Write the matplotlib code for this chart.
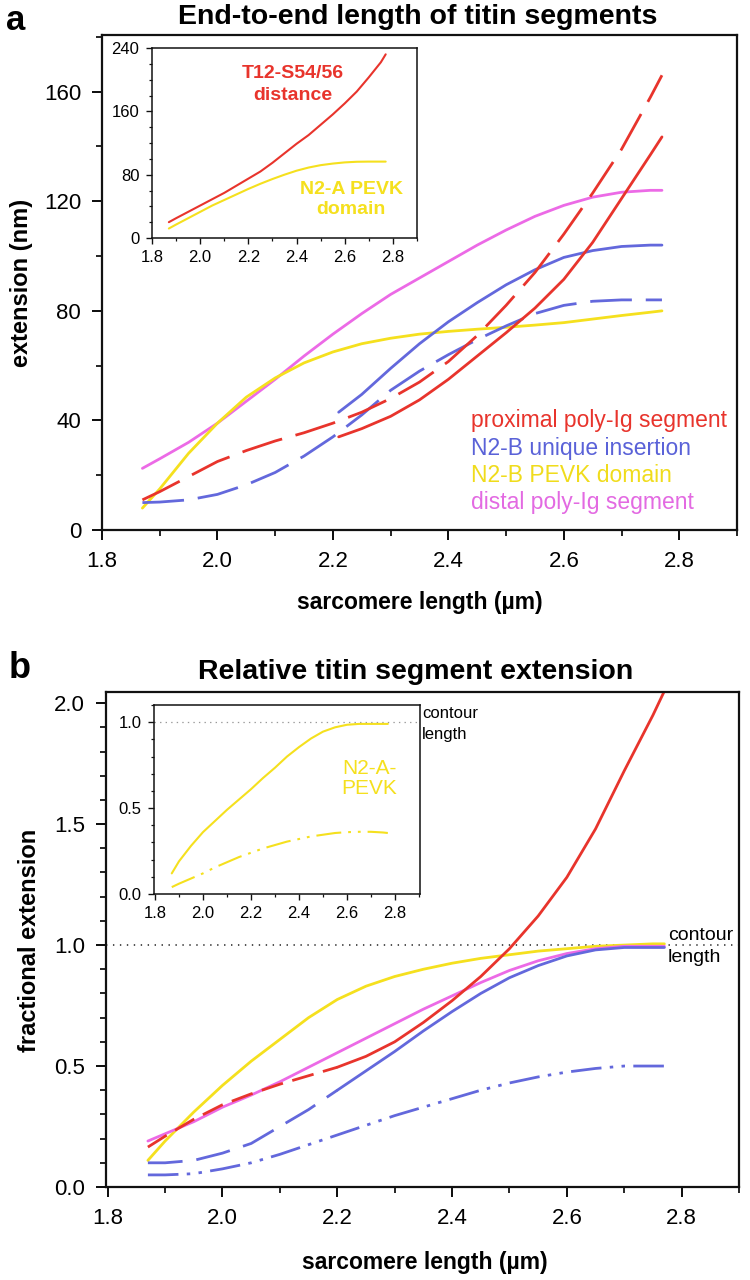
import matplotlib
matplotlib.use("Agg")
import matplotlib.pyplot as plt
from matplotlib.ticker import MultipleLocator

# ---------------- data ----------------
sl = [1.87, 1.9, 1.95, 2.0, 2.05, 2.1, 2.15, 2.2, 2.25, 2.3, 2.35, 2.4, 2.45,
      2.5, 2.55, 2.6, 2.65, 2.7, 2.75, 2.77]

# panel a: end-to-end length (nm)
a_distal = [22.5, 26, 32, 39, 47, 55, 63.5, 71.5, 79, 86, 92, 98, 104, 109.5,
            114.5, 118.5, 121.5, 123.3, 124, 124]
a_pevk = [8, 15, 28, 39, 48.5, 55.5, 61, 65, 68, 70, 71.5, 72.5, 73.3, 74, 74.8,
          75.7, 77, 78.3, 79.5, 80]
a_n2b_dashed = [10, 10.2, 11, 13, 16.5, 21, 27, 34, 42, 51, 58, 64, 69.5, 74.5,
                79, 82, 83.5, 84, 84, 84]
sl_late = [2.21, 2.25, 2.3, 2.35, 2.4, 2.45, 2.5, 2.55, 2.6, 2.65, 2.7, 2.75, 2.77]
a_n2b_solid = [43, 49.5, 59, 68, 76, 83, 89.5, 95, 99.5, 102, 103.5, 104, 104]
a_prox_dashed = [11, 14, 19.5, 25, 29, 32.5, 35.5, 39, 43, 48, 54, 61.5, 71, 82,
                 94, 108, 123, 139, 158, 166]
a_prox_solid = [34, 37, 41.5, 47.5, 55, 63.5, 72, 81, 91.5, 105, 121, 137, 143.5]

# panel a inset
ai_t12 = [20, 25, 33, 41, 49, 57, 66, 75, 84, 95, 107, 119, 130, 143, 156, 170,
          185, 203, 222, 232]
ai_n2a = [12, 17, 25, 33, 41, 48, 55, 62, 68.5, 74.5, 80, 85, 89, 92, 94, 95.5,
          96.3, 96.5, 96.5, 96.5]

# panel b: fractional extension
b_pevk = [0.11, 0.19, 0.31, 0.42, 0.52, 0.61, 0.70, 0.775, 0.83, 0.87, 0.90,
          0.925, 0.945, 0.96, 0.975, 0.985, 0.995, 1.0, 1.005, 1.005]
b_distal = [0.19, 0.22, 0.27, 0.33, 0.38, 0.435, 0.495, 0.555, 0.615, 0.675,
            0.735, 0.79, 0.845, 0.895, 0.935, 0.965, 0.985, 0.995, 0.995, 0.995]
sl_early = [1.87, 1.9, 1.95, 2.0, 2.05, 2.1, 2.15, 2.2]
sl_mid = [2.2, 2.25, 2.3, 2.35, 2.4, 2.45, 2.5, 2.55, 2.6, 2.65, 2.7, 2.75, 2.77]
b_prox_early = [0.165, 0.21, 0.28, 0.34, 0.385, 0.425, 0.46, 0.495]
b_prox_late = [0.495, 0.54, 0.60, 0.68, 0.77, 0.87, 0.985, 1.12, 1.28, 1.48,
               1.72, 1.95, 2.05]
b_n2b_early = [0.10, 0.10, 0.11, 0.14, 0.18, 0.25, 0.32, 0.40]
b_n2b_late = [0.40, 0.48, 0.56, 0.645, 0.725, 0.80, 0.865, 0.915, 0.955, 0.98,
              0.99, 0.99, 0.99]
b_n2b_dashdot = [0.05, 0.05, 0.055, 0.075, 0.10, 0.135, 0.175, 0.215, 0.255,
                 0.295, 0.33, 0.365, 0.40, 0.43, 0.455, 0.475, 0.49, 0.50, 0.50, 0.50]

# panel b inset
bi_n2a = [0.12, 0.19, 0.28, 0.36, 0.425, 0.49, 0.55, 0.61, 0.675, 0.735, 0.80,
          0.855, 0.905, 0.945, 0.97, 0.985, 0.99, 0.99, 0.99, 0.99]
bi_n2a_dd = [0.04, 0.06, 0.09, 0.12, 0.155, 0.185, 0.215, 0.24, 0.265, 0.285,
             0.305, 0.32, 0.335, 0.345, 0.355, 0.36, 0.362, 0.362, 0.358, 0.355]

legend_labels = ["proximal poly-Ig segment", "N2-B unique insertion",
                 "N2-B PEVK domain", "distal poly-Ig segment"]

# ---------------- style ----------------
RED = "#e8342c"
BLUE = "#6368dc"
YEL = "#f5e01e"
PINK = "#ec6ae6"
BLUE_T = "#5a62d8"
PINK_T = "#e36ae2"

SANS = ["Liberation Sans", "DejaVu Sans"]
NARROW = ["Liberation Sans Narrow", "Liberation Sans", "DejaVu Sans"]
plt.rcParams["font.family"] = NARROW
plt.rcParams["lines.scale_dashes"] = False
plt.rcParams["lines.solid_capstyle"] = "round"

W, H = 750, 1280
fig = plt.figure(figsize=(7.5, 12.8), dpi=100)


def rect(l, t, r, b):
    return [l / W, 1 - b / H, (r - l) / W, (b - t) / H]


def ftext(x, y, s, **kw):
    kw.setdefault("ha", "center")
    kw.setdefault("va", "center")
    fig.text(x / W, 1 - y / H, s, **kw)


def style_axes(ax, lw, labelsize, maj, mnr, pad):
    for sp in ax.spines.values():
        sp.set_linewidth(lw)
        sp.set_color("#111111")
    ax.tick_params(which="major", direction="out", length=maj, width=lw * 0.9,
                   labelsize=labelsize, pad=pad, top=False, right=False,
                   color="#111111")
    ax.tick_params(which="minor", direction="out", length=mnr, width=lw * 0.8,
                   top=False, right=False, color="#111111")


DASH_A = (0, (30, 10))
DASH_B_RED = (0, (16, 7))
DASH_B_BLUE = (0, (25, 10))
DDOT = (0, (22, 6, 2.5, 6, 2.5, 6))
LW = 2.0

# ================= panel a =================
axa = fig.add_axes(rect(102, 35, 737, 530))
axa.plot(sl, a_distal, color=PINK, lw=LW)
axa.plot(sl, a_pevk, color=YEL, lw=LW)
axa.plot(sl, a_n2b_dashed, color=BLUE, lw=LW, linestyle=DASH_A)
axa.plot(sl_late, a_n2b_solid, color=BLUE, lw=LW)
axa.plot(sl, a_prox_dashed, color=RED, lw=LW, linestyle=DASH_A)
axa.plot(sl_late, a_prox_solid, color=RED, lw=LW)
axa.set_xlim(1.8, 2.9)
axa.set_ylim(0, 180.7)
axa.xaxis.set_major_locator(MultipleLocator(0.2))
axa.xaxis.set_minor_locator(MultipleLocator(0.1))
axa.yaxis.set_major_locator(MultipleLocator(40))
axa.yaxis.set_minor_locator(MultipleLocator(20))
axa.xaxis.set_major_formatter(plt.FuncFormatter(lambda v, p: f"{v:.1f}"))
style_axes(axa, 1.6, 16, 7, 4, 8)

leg_colors = [RED, BLUE_T, "#f0dc1c", PINK_T]
leg_y = [420, 449, 476, 503]
for lab, c, y in zip(legend_labels, leg_colors, leg_y):
    ftext(471, y, lab, ha="left", color=c, fontsize=16.5, family=SANS)

# inset a
ia = fig.add_axes(rect(152, 48, 417, 238))
ia.plot(sl, ai_t12, color=RED, lw=1.5)
ia.plot(sl, ai_n2a, color=YEL, lw=1.5)
ia.set_xlim(1.8, 2.9)
ia.set_ylim(0, 240)
ia.xaxis.set_major_locator(MultipleLocator(0.2))
ia.xaxis.set_minor_locator(MultipleLocator(0.1))
ia.yaxis.set_major_locator(MultipleLocator(80))
ia.yaxis.set_minor_locator(MultipleLocator(20))
ia.xaxis.set_major_formatter(plt.FuncFormatter(lambda v, p: f"{v:.1f}"))
style_axes(ia, 1.1, 12, 4, 2.5, 5)
ftext(293, 74, "T12-S54/56", color=RED, fontsize=14, fontweight="bold", family=SANS)
ftext(293, 96, "distance", color=RED, fontsize=14, fontweight="bold", family=SANS)
ftext(351, 189, "N2-A PEVK", color=YEL, fontsize=14, fontweight="bold", family=SANS)
ftext(351, 210, "domain", color=YEL, fontsize=14, fontweight="bold", family=SANS)

ftext(16, 4, "a", fontsize=25, fontweight="bold", family=SANS, va="top")
ftext(418, 17, "End-to-end length of titin segments", fontsize=20.5,
      fontweight="bold", family=SANS)
ftext(22, 283, "extension (nm)", rotation=90, fontsize=17, fontweight="bold",
      family=SANS)
ftext(420, 603, "sarcomere length (µm)", fontsize=16.5, fontweight="bold",
      family=SANS)

# ================= panel b =================
axb = fig.add_axes(rect(106, 692, 739, 1187))
axb.axhline(1.0, color="#333333", lw=1.2, linestyle=(0, (1, 4)))
axb.plot(sl, b_pevk, color=YEL, lw=LW)
axb.plot(sl, b_distal, color=PINK, lw=LW)
axb.plot(sl_early, b_n2b_early, color=BLUE, lw=LW, linestyle=DASH_B_BLUE)
axb.plot(sl_mid, b_n2b_late, color=BLUE, lw=LW)
axb.plot(sl, b_n2b_dashdot, color=BLUE, lw=LW, linestyle=DDOT)
axb.plot(sl_early, b_prox_early, color=RED, lw=LW, linestyle=DASH_B_RED)
axb.plot(sl_mid, b_prox_late, color=RED, lw=LW)
axb.set_xlim(1.797, 2.9)
axb.set_ylim(0, 2.046)
axb.xaxis.set_major_locator(MultipleLocator(0.2))
axb.xaxis.set_minor_locator(MultipleLocator(0.1))
axb.yaxis.set_major_locator(MultipleLocator(0.5))
axb.yaxis.set_minor_locator(MultipleLocator(0.1))
axb.xaxis.set_major_formatter(plt.FuncFormatter(lambda v, p: f"{v:.1f}"))
axb.yaxis.set_major_formatter(plt.FuncFormatter(lambda v, p: f"{v:.1f}"))
style_axes(axb, 1.6, 16, 7, 4, 8)
ftext(668, 936, "contour", ha="left", fontsize=14)
ftext(668, 958, "length", ha="left", fontsize=14)

# inset b
ib = fig.add_axes(rect(154, 705, 420, 894))
ib.axhline(1.0, color="#999999", lw=0.9, linestyle=(0, (1, 3)))
ib.plot(sl, bi_n2a, color=YEL, lw=1.5)
ib.plot(sl, bi_n2a_dd, color=YEL, lw=1.5, linestyle=(0, (18, 5, 2, 5, 2, 5)))
ib.set_xlim(1.796, 2.904)
ib.set_ylim(0, 1.1)
ib.xaxis.set_major_locator(MultipleLocator(0.2))
ib.xaxis.set_minor_locator(MultipleLocator(0.1))
ib.yaxis.set_major_locator(MultipleLocator(0.5))
ib.yaxis.set_minor_locator(MultipleLocator(0.1))
ib.xaxis.set_major_formatter(plt.FuncFormatter(lambda v, p: f"{v:.1f}"))
ib.yaxis.set_major_formatter(plt.FuncFormatter(lambda v, p: f"{v:.1f}"))
style_axes(ib, 1.1, 12, 4, 2.5, 5)
ftext(422, 714, "contour", ha="left", fontsize=12)
ftext(422, 734, "length", ha="left", fontsize=12)
ftext(369, 768, "N2-A-", color=YEL, fontsize=15, family=SANS)
ftext(369, 789, "PEVK", color=YEL, fontsize=15, family=SANS)

ftext(20, 668, "b", fontsize=26, fontweight="bold", family=SANS)
ftext(416, 672, "Relative titin segment extension", fontsize=20.5,
      fontweight="bold", family=SANS)
ftext(30, 940, "fractional extension", rotation=90, fontsize=17,
      fontweight="bold", family=SANS)
ftext(425, 1262, "sarcomere length (µm)", fontsize=16.5, fontweight="bold",
      family=SANS)

fig.savefig("out.png", dpi=100, facecolor="white")
